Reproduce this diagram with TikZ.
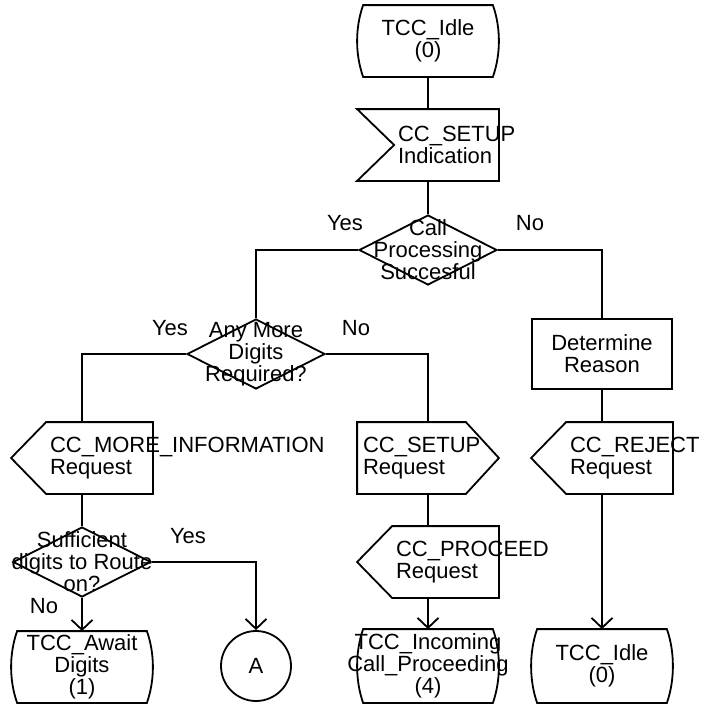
\documentclass[tikz,border=0pt]{standalone}
\usepackage{fontspec}
\setmainfont{Liberation Sans}
\usetikzlibrary{arrows.meta, shapes.geometric}

\begin{document}
\begin{tikzpicture}[x=1pt, y=-1pt, line width=1.8pt,
    font=\fontsize{22}{22}\selectfont,
    >={Straight Barb[length=10pt, width=21pt]},
    every label/.style={inner sep=0pt},
    outline/.style={append after command={\pgfextra{\pgfinterruptpath
        \draw[line width=1.8pt] #1;\endpgfinterruptpath}}},
    box/.style={rectangle, inner sep=0pt, minimum width=140, minimum height=70},
    state/.style={box, label={[align=center]center:#1},
        outline={([xshift=6]\tikzlastnode.north west) -- ([xshift=-6]\tikzlastnode.north east)
          .. controls ([xshift=2, yshift=-23]\tikzlastnode.north east)
          and ([xshift=2, yshift=23]\tikzlastnode.south east) .. ([xshift=-6]\tikzlastnode.south east)
          -- ([xshift=6]\tikzlastnode.south west)
          .. controls ([xshift=-2, yshift=23]\tikzlastnode.south west)
          and ([xshift=-2, yshift=-23]\tikzlastnode.north west) .. cycle}},
    sigin/.style={box, label={[align=left, anchor=west, xshift=40]west:#1},
        outline={(\tikzlastnode.north west) -- (\tikzlastnode.north east)
          -- (\tikzlastnode.south east) -- (\tikzlastnode.south west)
          -- ([xshift=37]\tikzlastnode.west) -- cycle}},
    sigleft/.style={box, label={[align=left, anchor=west, xshift=38]west:#1},
        outline={(\tikzlastnode.west) -- ([xshift=35]\tikzlastnode.north west)
          -- (\tikzlastnode.north east) -- (\tikzlastnode.south east)
          -- ([xshift=35]\tikzlastnode.south west) -- cycle}},
    sigright/.style={box, label={[align=left, anchor=west, xshift=5]west:#1},
        outline={(\tikzlastnode.north west) -- ([xshift=-33]\tikzlastnode.north east)
          -- (\tikzlastnode.east) -- ([xshift=-33]\tikzlastnode.south east)
          -- (\tikzlastnode.south west) -- cycle}},
    decision/.style={draw, diamond, inner sep=0pt, minimum width=138, minimum height=70,
        label={[align=center]center:#1}},
    task/.style={draw, box, label={[align=center]center:#1}},
    conn/.style={draw, circle, inner sep=0pt, minimum size=70},
    lbl/.style={inner sep=0pt}]
    \useasboundingbox (0,0) rectangle (702,704);

    % states, signals and decisions
    \node[state={TCC\_Idle\\(0)}] (idle0) at (428,41) {};
    \node[sigin={CC\_SETUP\\Indication}] (setupind) at (428,145) {};
    \node[decision={Call\\Processing\\Succesful}] (callok) at (428,250) {};
    \node[decision={Any More\\Digits\\Required?}] (moredig) at (256,354) {};
    \node[task={Determine\\Reason}] (reason) at (602,354) {};
    \node[sigleft={CC\_MORE\_INFORMATION\\Request}] (moreinfo) at (82,458) {};
    \node[sigright={CC\_SETUP\\Request}] (setupreq) at (428,458) {};
    \node[sigleft={CC\_REJECT\\Request}] (reject) at (602,458) {};
    \node[decision={Sufficient\\digits to Route\\on?}] (enough) at (82,562) {};
    \node[sigleft={CC\_PROCEED\\Request}] (proceed) at (428,562) {};
    \node[state={TCC\_Await\\Digits\\(1)}] (awaitdig) at (82,667) {};
    \node[conn] (conA) at (256,666) {A};
    \node[state={TCC\_Incoming\\Call\_Proceeding\\(4)}, minimum height=72] (incoming) at (428,666) {};
    \node[state={TCC\_Idle\\(0)}, minimum height=72] (idle1) at (602,666) {};

    % branch labels
    \node[lbl] (yes1) at (345,223) {Yes};
    \node[lbl] (no1) at (530,223) {No};
    \node[lbl] (yes2) at (170,328) {Yes};
    \node[lbl] (no2) at (356,328) {No};
    \node[lbl] (yes3) at (188,536) {Yes};
    \node[lbl] (no3) at (44,606) {No};

    % flow lines
    \draw (idle0.south) -- (setupind.north);
    \draw (setupind.south) -- (callok.north);
    \draw (callok.west) -| (moredig.north);
    \draw (callok.east) -| (reason.north);
    \draw (moredig.west) -| (moreinfo.north);
    \draw (moredig.east) -| (setupreq.north);
    \draw (reason.south) -- (reject.north);
    \draw (moreinfo.south) -- (enough.north);
    \draw (setupreq.south) -- (proceed.north);
    \draw[->] (enough.south) -- (awaitdig.north);
    \draw[->] (enough.east) -| (conA.north);
    \draw[->] (proceed.south) -- (incoming.north);
    \draw[->] (reject.south) -- (idle1.north);
\end{tikzpicture}
\end{document}
